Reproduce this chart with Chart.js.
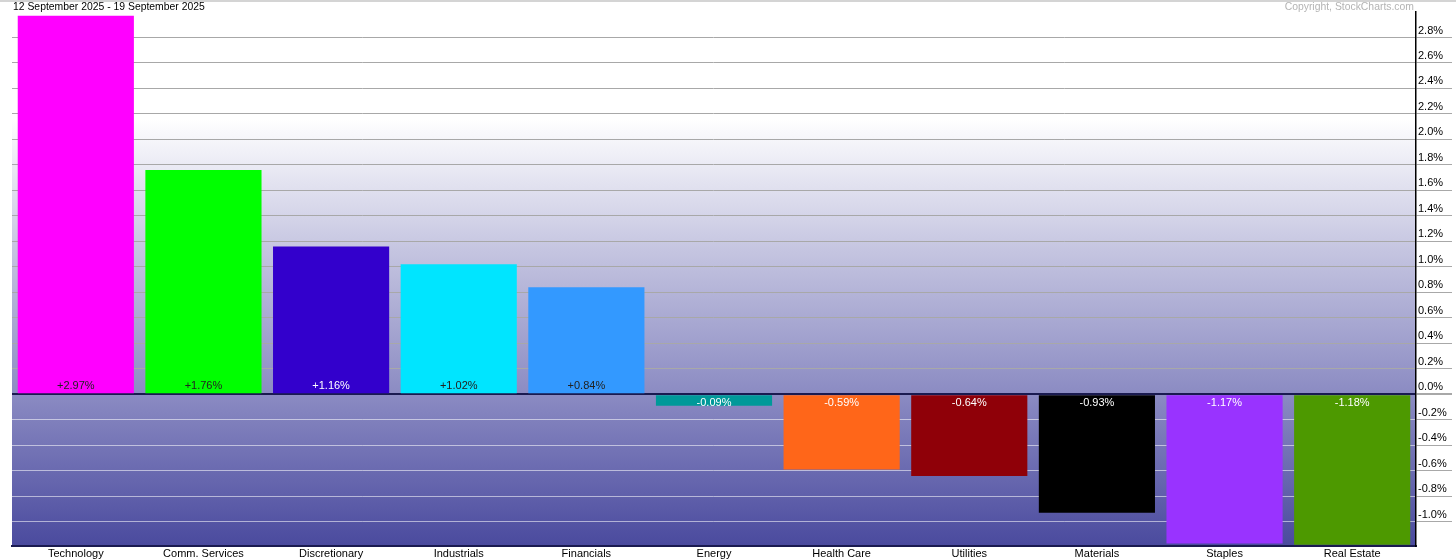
<!DOCTYPE html>
<html>
<head>
<meta charset="utf-8">
<script src="https://cdn.jsdelivr.net/npm/chart.js"></script>
<style>
	html, body { margin: 0; padding: 0; background: #fff; }
	#wrap { position: relative; width: 1456px; height: 560px; }
	#topline { position: absolute; left: 0; top: 0; width: 1456px; height: 2px; background: #d4d4d4; }
	#title { position: absolute; left: 13px; top: 1px; font: 10.4px Arial, "Liberation Sans", sans-serif; color: #000; }
	#copy { position: absolute; right: 42px; top: 1px; font: 10.4px Arial, "Liberation Sans", sans-serif; color: #b4b4b4; }
</style>
</head>
<body>
<div id="wrap">
	<canvas id="sector-chart"></canvas>
	<div id="topline"></div>
	<div id="title">12 September 2025 - 19 September 2025</div>
	<div id="copy">Copyright, StockCharts.com</div>
</div>
<script>
// Sector performance for the week
const categories = ["Technology", "Comm. Services", "Discretionary", "Industrials", "Financials", "Energy", "Health Care", "Utilities", "Materials", "Staples", "Real Estate"];
const changes = [2.97, 1.76, 1.16, 1.02, 0.84, -0.09, -0.59, -0.64, -0.93, -1.17, -1.18];
const barColors = ["#ff00ff", "#00ff00", "#3300cc", "#00e5ff", "#3399ff", "#009999", "#ff6619", "#8f0008", "#000000", "#9933ff", "#4d9900"];
const labelColors = ["#222", "#222", "#fff", "#222", "#222", "#fff", "#fff", "#fff", "#fff", "#fff", "#fff"];
const tickValues = [-1.0, -0.8, -0.6, -0.4, -0.2, 0.0, 0.2, 0.4, 0.6, 0.8, 1.0, 1.2, 1.4, 1.6, 1.8, 2.0, 2.2, 2.4, 2.6, 2.8];

// Fill the plot area with the white-to-blue gradient
const backgroundPlugin = {
	id: 'plotBackground',
	beforeDraw(chart) {
		const { ctx, chartArea } = chart;
		const g = ctx.createLinearGradient(0, chartArea.top, 0, chartArea.bottom);
		g.addColorStop(0, '#ffffff');
		g.addColorStop(0.2, '#ffffff');
		g.addColorStop(0.45, '#c4c4e0');
		g.addColorStop(0.72, '#8a8ac2');
		g.addColorStop(1, '#4a4a9e');
		ctx.save();
		ctx.fillStyle = g;
		ctx.fillRect(chartArea.left, chartArea.top, chartArea.right - chartArea.left, chartArea.bottom - chartArea.top);
		ctx.restore();
	}
};

// Write the percentage near the zero line of each bar
const valueLabelPlugin = {
	id: 'valueLabels',
	afterDatasetsDraw(chart) {
		const { ctx } = chart;
		const zero = chart.scales.y.getPixelForValue(0);
		const meta = chart.getDatasetMeta(0);
		ctx.save();
		ctx.font = '11px Arial, "Liberation Sans", sans-serif';
		ctx.textAlign = 'center';
		ctx.textBaseline = 'middle';
		meta.data.forEach((bar, i) => {
			const v = changes[i];
			const text = (v > 0 ? '+' : '') + v.toFixed(2) + '%';
			ctx.fillStyle = labelColors[i];
			ctx.fillText(text, bar.x, v >= 0 ? zero - 8 : zero + 9);
		});
		ctx.restore();
	}
};

new Chart(document.getElementById('sector-chart'), {
	type: 'bar',
	data: {
		labels: categories,
		datasets: [{
			data: changes,
			backgroundColor: barColors,
			borderWidth: 0,
			barPercentage: 0.91,
			categoryPercentage: 1.0
		}]
	},
	plugins: [backgroundPlugin, valueLabelPlugin],
	options: {
		responsive: true,
		maintainAspectRatio: false,
		animation: false,
		layout: { padding: { left: 12, top: 12, right: 0, bottom: 0 } },
		plugins: {
			legend: { display: false },
			tooltip: { enabled: false }
		},
		scales: {
			x: {
				grid: { display: false, drawTicks: false },
				border: { color: '#1a1a50', width: 2 },
				ticks: {
					color: '#000',
					font: { family: 'Arial, "Liberation Sans", sans-serif', size: 11 },
					padding: 1,
					maxRotation: 0,
					autoSkip: false
				},
				afterFit(scale) { scale.height = 14; }
			},
			y: {
				position: 'right',
				min: -1.19,
				max: 3.0,
				afterBuildTicks(scale) {
					scale.ticks = tickValues.map(v => ({ value: v }));
				},
				afterFit(scale) { scale.width = 40; },
				border: { color: '#000', width: 1.5 },
				grid: {
					color: ctx => {
						const v = ctx.tick ? ctx.tick.value : 1;
						if (Math.abs(v) < 1e-9) return '#1a1a50';
						return v < 0 ? 'rgba(255,255,255,0.55)' : '#a8a8a8';
					},
					lineWidth: ctx => (ctx.tick && Math.abs(ctx.tick.value) < 1e-9 ? 2 : 1),
					tickLength: 36,
					tickColor: '#a8a8a8'
				},
				ticks: {
					color: '#000',
					font: { family: 'Arial, "Liberation Sans", sans-serif', size: 11 },
					padding: -34,
					labelOffset: -7,
					callback: v => Number(v).toFixed(1) + '%'
				}
			}
		}
	}
});
</script>
</body>
</html>
